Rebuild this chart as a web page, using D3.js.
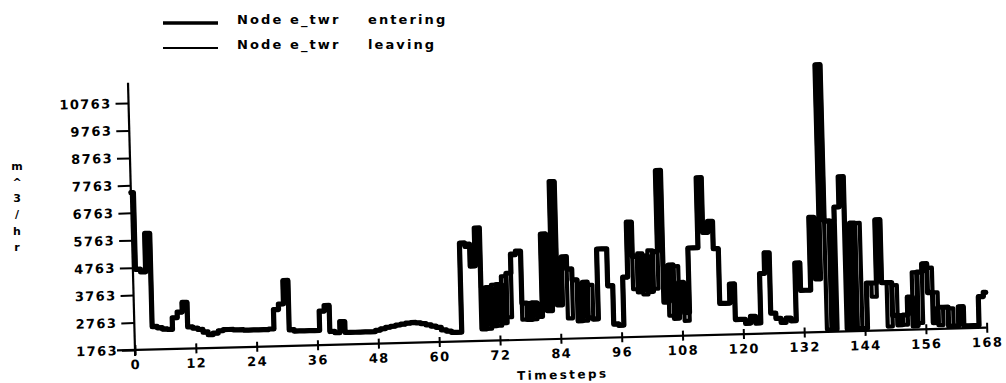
<!DOCTYPE html>
<html>
<head>
<meta charset="utf-8">
<script src="https://cdn.jsdelivr.net/npm/d3@7"></script>
<style>
  html, body { margin: 0; padding: 0; background: #fff; }
  svg { display: block; }
  text { font-family: "DejaVu Sans", sans-serif; font-weight: bold; fill: #000; }
</style>
</head>
<body>
<svg id="chart" width="1006" height="383"></svg>
<script>
// ---- data ----
const seriesNames = ["Node e_twr", "Node e_twr"];
const seriesLabels = ["entering", "leaving"];
const xTicks = [0, 12, 24, 36, 48, 60, 72, 84, 96, 108, 120, 132, 144, 156, 168];
const yTicks = [1763, 2763, 3763, 4763, 5763, 6763, 7763, 8763, 9763, 10763];
const yTitleChars = ["m", "^", "3", "/", "h", "r"];
const xTitle = "Timesteps";

const entering = [
  7500, 4700, 4600, 6000, 2600, 2550, 2500, 2480, 2900, 3100, 3450, 2550,
  2500, 2450, 2350, 2250, 2300, 2380, 2420, 2420, 2400, 2400, 2380, 2380,
  2380, 2380, 2380, 2400, 3100, 3300, 4150, 2350, 2300, 2300, 2300, 2300,
  2300, 3000, 3200, 2250, 2200, 2600, 2200, 2200, 2200, 2200, 2200, 2200,
  2250, 2300, 2350, 2380, 2420, 2450, 2480, 2500, 2480, 2450, 2400, 2350,
  2300, 2200, 2150, 2100, 2100, 5350, 5300, 4500, 5880, 2200, 3700, 2300,
  3800, 2400, 4200, 4900, 5000, 3100, 2500, 3100, 2600, 5600, 2800, 7500,
  3000, 4750, 4300, 3900, 2400, 3800, 2500, 2450, 5000, 5000, 3650, 2250,
  2200, 3950, 5950, 4700, 3400, 4700, 3400, 4850, 7800, 3000, 4350, 2400,
  3700, 2600, 4950, 4950, 7500, 5500, 5900, 4900, 2900, 2900, 3600, 2300,
  2300, 2150, 2400, 2150, 3950, 4700, 2500, 2300, 2150, 2300, 2200, 4300,
  3300, 3300, 5950, 3700, 11500, 5800, 1850, 6300, 7400, 1850, 5700, 1850,
  1850, 3500, 3500, 5800, 3500, 3500, 2300, 1950, 2300, 2950, 1900, 3850,
  4150, 3100, 2000, 2550, 2550, 1850, 1850, 2550, 1850, 1850, 1850, 2900,
  3050
];
const leaving = [
  7500, 4700, 4600, 6000, 2600, 2550, 2500, 2480, 2900, 3100, 3450, 2550,
  2500, 2450, 2350, 2250, 2300, 2380, 2420, 2420, 2400, 2400, 2380, 2380,
  2380, 2380, 2380, 2400, 3100, 3300, 4150, 2350, 2300, 2300, 2300, 2300,
  2300, 3000, 3200, 2250, 2200, 2600, 2200, 2200, 2200, 2200, 2200, 2200,
  2250, 2300, 2350, 2380, 2420, 2450, 2480, 2500, 2480, 2450, 2400, 2350,
  2300, 2200, 2150, 2100, 2100,
  5300, 5200, 4500, 5800, 3700, 2200, 3800, 2300, 4100, 2600, 4850, 5000,
  2500, 3100, 2500, 2600, 5600, 2800, 7500, 3000, 4700, 2500, 3900, 3500,
  2400, 3700, 2450, 5000, 5000, 3650, 2250, 2200, 3950, 5950, 3500, 4800,
  3300, 4900, 3500, 7800, 4300, 2500, 4300, 3600, 2300, 4950, 4950, 7500,
  5500, 5900, 4900, 2900, 2900, 3600, 2300, 2300, 2150, 2400, 2150, 3950,
  4700, 2500, 2300, 2150, 2300, 2200, 4300, 3300, 3300, 5950, 5200, 11500,
  1850, 5800, 6300, 7400, 5600, 1850, 5700, 1850, 3500, 3000, 5800, 3500,
  1900, 3400, 2300, 1950, 2950, 3850, 2000, 4150, 4000, 3100, 1900, 2550,
  2500, 1850, 2550, 1850, 1850, 1850, 2900, 3050
];

// ---- drawing ----
const svg = d3.select("#chart");

const x = d3.scaleLinear().domain([0, 168]).range([0, 852]);
const y = d3.scaleLinear().domain([1763, 11500]).range([0, -267.3]);

const g = svg.append("g").attr("transform", "translate(135,350) rotate(-1.5)");

// axis lines
g.append("line").attr("x1", x(0) - 18).attr("x2", x(168)).attr("y1", 0).attr("y2", 0)
  .attr("stroke", "#000").attr("stroke-width", 2.2);
g.append("line").attr("x1", 0).attr("x2", 0).attr("y1", 6).attr("y2", y(11500))
  .attr("stroke", "#000").attr("stroke-width", 2.2);

// y axis
const yAxis = g.append("g").call(
  d3.axisLeft(y).tickValues(yTicks).tickSize(13).tickPadding(4).tickFormat(d3.format("d"))
);
yAxis.select(".domain").remove();
yAxis.selectAll(".tick line").attr("stroke", "#000").attr("stroke-width", 2);
yAxis.selectAll(".tick text").style("font-size", "13px").style("letter-spacing", "1.4px")
  .style("font-family", "DejaVu Sans").style("font-weight", "bold").attr("fill", "#000");

// x axis
const xAxis = g.append("g").call(
  d3.axisBottom(x).tickValues(xTicks).tickSize(5).tickPadding(5).tickFormat(d3.format("d"))
);
xAxis.select(".domain").remove();
xAxis.selectAll(".tick line").attr("y1", -5).attr("y2", 5).attr("stroke", "#000").attr("stroke-width", 2);
xAxis.selectAll(".tick text").style("font-size", "13px").style("letter-spacing", "1.4px")
  .style("font-family", "DejaVu Sans").style("font-weight", "bold").attr("fill", "#000");

// lines (plotter-style steps, one step per timestep)
const line = d3.line().x((d, i) => x(i)).y(d => y(d)).curve(d3.curveStep);
g.append("path").datum(leaving).attr("d", line)
  .attr("fill", "none").attr("stroke", "#000").attr("stroke-width", 4.2)
  .attr("stroke-linejoin", "round").attr("stroke-linecap", "round");
g.append("path").datum(entering).attr("d", line)
  .attr("fill", "none").attr("stroke", "#000").attr("stroke-width", 5.2)
  .attr("stroke-linejoin", "round").attr("stroke-linecap", "round");

// x title
g.append("text").attr("x", x(84) + 1).attr("y", 40).attr("text-anchor", "middle")
  .style("font-size", "12px").style("letter-spacing", "2.4px").text(xTitle);

// y title (stacked characters)
const yTitleBase = [170, 186, 202, 218, 235, 251];
svg.append("g").selectAll("text").data(yTitleChars).join("text")
  .attr("x", 17).attr("y", (d, i) => yTitleBase[i]).attr("text-anchor", "middle")
  .style("font-size", "11px").text(d => d);

// legend
const legendY = [23, 48];
const legendW = [3.5, 2];
const leg = svg.append("g");
seriesLabels.forEach((lab, i) => {
  leg.append("line").attr("x1", 163).attr("x2", 218).attr("y1", legendY[i]).attr("y2", legendY[i])
    .attr("stroke", "#000").attr("stroke-width", legendW[i]);
  const t = leg.append("text").attr("y", legendY[i] + 0.5).style("font-size", "13px").style("letter-spacing", "2.1px");
  t.append("tspan").attr("x", 237).text(seriesNames[i]);
  t.append("tspan").attr("x", 368).text(lab);
});
</script>
</body>
</html>
